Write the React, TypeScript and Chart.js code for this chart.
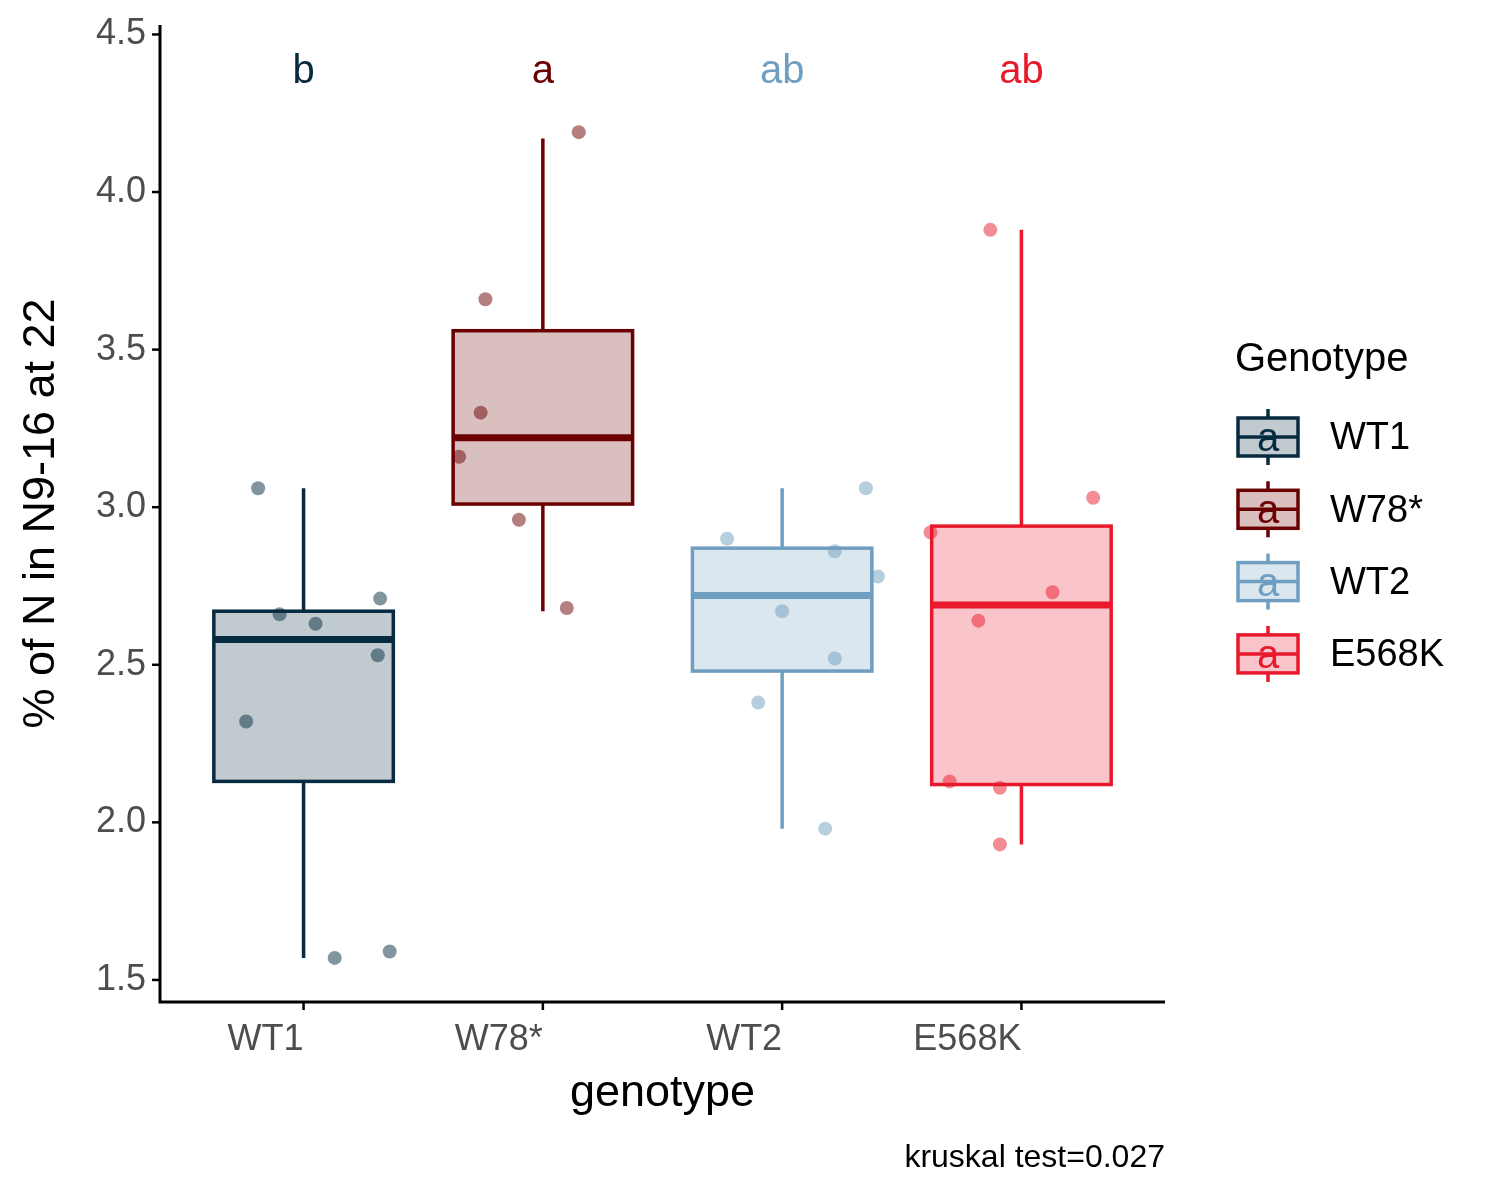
import React, { useEffect, useRef } from "react";
import { Chart, registerables } from "chart.js";
Chart.register(...registerables);

const categories = ["WT1", "W78*", "WT2", "E568K"];
const colors = ["#062B40", "#6B0000", "#6F9EC0", "#E8192C"];
const q1 = [2.13, 3.01, 2.48, 2.12];
const medians = [2.58, 3.22, 2.72, 2.69];
const q3 = [2.67, 3.56, 2.87, 2.94];
const whiskerLow = [1.57, 2.67, 1.98, 1.93];
const whiskerHigh = [3.06, 4.17, 3.06, 3.88];
const letters = ["b", "a", "ab", "ab"];
const yTicks = [1.5, 2.0, 2.5, 3.0, 3.5, 4.0, 4.5];
const pointOffsets = [
  [-0.19, -0.1, 0.05, 0.32, 0.31, -0.24, 0.13, 0.36],
  [0.15, -0.24, -0.26, -0.35, -0.1, 0.1],
  [0.35, -0.23, 0.22, 0.4, 0, 0.22, -0.1, 0.18],
  [-0.13, 0.3, -0.38, 0.13, -0.18, -0.3, -0.09, -0.09],
];
const pointValues = [
  [3.06, 2.66, 2.63, 2.71, 2.53, 2.32, 1.57, 1.59],
  [4.19, 3.66, 3.3, 3.16, 2.96, 2.68],
  [3.06, 2.9, 2.86, 2.78, 2.67, 2.52, 2.38, 1.98],
  [3.88, 3.03, 2.92, 2.73, 2.64, 2.13, 2.11, 1.93],
];

function alpha(hex: string, a: number) {
  const n = parseInt(hex.slice(1), 16);
  return `rgba(${(n >> 16) & 255},${(n >> 8) & 255},${n & 255},${a})`;
}
const FONT = "'Liberation Sans', Arial, sans-serif";

const drawPlugin = {
  id: "boxes",
  beforeDatasetsDraw(chart: any) {
    const ctx = chart.ctx;
    const xs = chart.scales.x, ys = chart.scales.y;
    ctx.save();
    categories.forEach((_, i) => {
      const cx = xs.getPixelForValue(i + 1);
      const hw = (xs.getPixelForValue(1.375) - xs.getPixelForValue(1));
      const c = colors[i];
      ctx.strokeStyle = c;
      ctx.lineWidth = 3.5;
      ctx.beginPath();
      ctx.moveTo(cx, ys.getPixelForValue(whiskerHigh[i]));
      ctx.lineTo(cx, ys.getPixelForValue(q3[i]));
      ctx.moveTo(cx, ys.getPixelForValue(q1[i]));
      ctx.lineTo(cx, ys.getPixelForValue(whiskerLow[i]));
      ctx.stroke();
      const top = ys.getPixelForValue(q3[i]), bot = ys.getPixelForValue(q1[i]);
      ctx.fillStyle = alpha(c, 0.25);
      ctx.fillRect(cx - hw, top, 2 * hw, bot - top);
      ctx.strokeRect(cx - hw, top, 2 * hw, bot - top);
      ctx.lineWidth = 7;
      ctx.beginPath();
      const m = ys.getPixelForValue(medians[i]);
      ctx.moveTo(cx - hw, m);
      ctx.lineTo(cx + hw, m);
      ctx.stroke();
    });
    ctx.restore();
  },
  afterDraw(chart: any) {
    const ctx = chart.ctx;
    const xs = chart.scales.x, ys = chart.scales.y;
    const a = chart.chartArea;
    ctx.save();
    ctx.strokeStyle = "#000";
    ctx.lineWidth = 3;
    ctx.beginPath();
    ctx.moveTo(a.left, a.top);
    ctx.lineTo(a.left, a.bottom);
    ctx.lineTo(a.right, a.bottom);
    ctx.stroke();
    ctx.font = `36px ${FONT}`;
    ctx.fillStyle = "#4D4D4D";
    ctx.textAlign = "right";
    ctx.textBaseline = "middle";
    ctx.lineWidth = 2.5;
    yTicks.forEach((t) => {
      const y = ys.getPixelForValue(t);
      ctx.beginPath();
      ctx.moveTo(a.left - 8, y);
      ctx.lineTo(a.left, y);
      ctx.stroke();
      ctx.fillText(t.toFixed(1), a.left - 14, y);
    });
    ctx.textBaseline = "top";
    categories.forEach((c, i) => {
      const x = xs.getPixelForValue(i + 1);
      ctx.beginPath();
      ctx.moveTo(x, a.bottom);
      ctx.lineTo(x, a.bottom + 8);
      ctx.stroke();
      ctx.fillText(c, x, a.bottom + 20);
    });
    ctx.font = `40px ${FONT}`;
    ctx.textAlign = "center";
    ctx.textBaseline = "middle";
    letters.forEach((l, i) => {
      ctx.fillStyle = colors[i];
      ctx.fillText(l, xs.getPixelForValue(i + 1), ys.getPixelForValue(4.38));
    });
    ctx.fillStyle = "#000";
    ctx.font = `45px ${FONT}`;
    ctx.fillText("genotype", (a.left + a.right) / 2, 1094);
    ctx.save();
    ctx.translate(42, (a.top + a.bottom) / 2);
    ctx.rotate(-Math.PI / 2);
    ctx.fillText("% of N in N9-16 at 22", 0, 0);
    ctx.restore();
    ctx.font = `32px ${FONT}`;
    ctx.textAlign = "right";
    ctx.fillText("kruskal test=0.027", a.right, 1158);
    ctx.textAlign = "left";
    ctx.font = `40px ${FONT}`;
    ctx.fillText("Genotype", 1235, 360);
    categories.forEach((c, i) => {
      const cy = 437 + i * 72.3;
      const col = colors[i];
      ctx.strokeStyle = col;
      ctx.lineWidth = 3.5;
      ctx.beginPath();
      ctx.moveTo(1268, cy - 28);
      ctx.lineTo(1268, cy + 28);
      ctx.stroke();
      ctx.fillStyle = "#fff";
      ctx.fillRect(1238, cy - 19, 60, 38);
      ctx.fillStyle = alpha(col, 0.25);
      ctx.fillRect(1238, cy - 19, 60, 38);
      ctx.strokeRect(1238, cy - 19, 60, 38);
      ctx.beginPath();
      ctx.moveTo(1238, cy);
      ctx.lineTo(1298, cy);
      ctx.stroke();
      ctx.fillStyle = col;
      ctx.font = `40px ${FONT}`;
      ctx.textAlign = "center";
      ctx.fillText("a", 1268, cy + 3);
      ctx.fillStyle = "#000";
      ctx.font = `38px ${FONT}`;
      ctx.textAlign = "left";
      ctx.fillText(c, 1330, cy + 2);
    });
    ctx.restore();
  },
};

export default function App() {
  const ref = useRef<HTMLCanvasElement>(null);
  useEffect(() => {
    const chart = new Chart(ref.current!, {
      type: "scatter",
      data: {
        datasets: categories.map((c, i) => ({
          label: c,
          data: pointValues[i].map((v, j) => ({ x: i + 1 + pointOffsets[i][j], y: v })),
          backgroundColor: alpha(colors[i], 0.5),
          borderWidth: 0,
          pointRadius: 7,
        })),
      },
      options: {
        animation: false,
        responsive: false,
        devicePixelRatio: 1,
        layout: { padding: { left: 160, right: 335, top: 25, bottom: 198 } },
        plugins: { legend: { display: false }, tooltip: { enabled: false } },
        scales: {
          x: { type: "linear", min: 0.4, max: 4.6, display: false },
          y: { type: "linear", min: 1.43, max: 4.53, display: false },
        },
      },
      plugins: [drawPlugin],
    });
    return () => chart.destroy();
  }, []);
  return (
    <canvas
      ref={ref}
      width={1500}
      height={1200}
      style={{ position: "absolute", left: 0, top: 0, width: 1500, height: 1200 }}
    />
  );
}
